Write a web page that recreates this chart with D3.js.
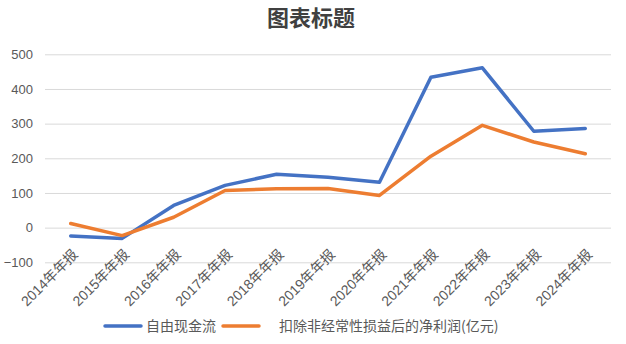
<!DOCTYPE html>
<html>
<head>
<meta charset="utf-8">
<script src="https://cdn.jsdelivr.net/npm/d3@7/dist/d3.min.js"></script>
<style>
  html, body { margin: 0; padding: 0; background: #fff; }
  svg { display: block; }
</style>
</head>
<body>
<svg id="chart" width="626" height="344"></svg>
<script>
// Annual report periods
const categories = ["2014年年报","2015年年报","2016年年报","2017年年报","2018年年报","2019年年报","2020年年报","2021年年报","2022年年报","2023年年报","2024年年报"];
// 自由现金流 (亿元)
const freeCashFlow = [-24, -31, 64, 122, 154, 145, 131, 434, 461, 278, 286];
// 扣除非经常性损益后的净利润 (亿元)
const netProfitDeducted = [12, -23, 30, 107, 112, 113, 93, 206, 295, 247, 213];
const yTicks = [-100, 0, 100, 200, 300, 400, 500];
const seriesNames = ["自由现金流", "扣除非经常性损益后的净利润(亿元)"];
const colors = ["#4472C4", "#ED7D31"];

const svg = d3.select("#chart");
const W = 626, H = 344;
const margin = { left: 45, right: 15, top: 54, bottom: 82 };
const fontCJK = "'Liberation Sans', 'Noto Sans CJK SC', sans-serif";

const x = d3.scaleBand().domain(categories).range([margin.left, W - margin.right]);
const y = d3.scaleLinear().domain([-100, 500]).range([262.3, 54.3]);

// Title
svg.append("text")
  .attr("x", 311).attr("y", 26)
  .attr("text-anchor", "middle")
  .attr("font-family", "'Noto Sans CJK SC', sans-serif")
  .attr("font-size", 22)
  .attr("font-weight", "bold")
  .attr("fill", "#404040")
  .text("图表标题");

// Gridlines + y labels
const yAxis = d3.axisLeft(y).tickValues(yTicks).tickSize(-(W - margin.right - margin.left)).tickPadding(12);
const gy = svg.append("g").attr("transform", `translate(${margin.left},0)`).call(yAxis);
gy.select(".domain").remove();
gy.selectAll(".tick line").attr("stroke", "#d9d9d9").attr("stroke-width", 1);
gy.selectAll(".tick text")
  .attr("font-family", "'Liberation Sans', Arial, sans-serif")
  .attr("font-size", 13)
  .attr("fill", "#595959");

// X labels rotated
const xAxis = d3.axisBottom(x).tickSize(0).tickPadding(0);
const gx = svg.append("g").attr("transform", `translate(0,${y(-100)})`).call(xAxis);
gx.select(".domain").remove();
gx.selectAll(".tick text")
  .attr("font-family", fontCJK)
  .attr("font-size", 14)
  .attr("fill", "#595959")
  .attr("text-anchor", "end")
  .attr("dy", 0)
  .attr("transform", "translate(8,-7) rotate(-45)");

// Lines
const line = d3.line()
  .x((d, i) => x(categories[i]) + x.bandwidth() / 2)
  .y(d => y(d));

[freeCashFlow, netProfitDeducted].forEach((vals, k) => {
  svg.append("path")
    .datum(vals)
    .attr("fill", "none")
    .attr("stroke", colors[k])
    .attr("stroke-width", 3.5)
    .attr("stroke-linejoin", "round")
    .attr("stroke-linecap", "round")
    .attr("d", line);
});

// Legend
const legendY = 326;
const legendItems = [
  { x1: 105, x2: 141, tx: 146 },
  { x1: 223, x2: 259, tx: 279 }
];
legendItems.forEach((it, k) => {
  svg.append("line")
    .attr("x1", it.x1).attr("x2", it.x2)
    .attr("y1", legendY).attr("y2", legendY)
    .attr("stroke", colors[k]).attr("stroke-width", 3.5)
    .attr("stroke-linecap", "round");
  svg.append("text")
    .attr("x", it.tx).attr("y", legendY)
    .attr("dy", "0.35em")
    .attr("font-family", "'Noto Sans CJK SC', sans-serif")
    .attr("font-size", 14)
    .attr("fill", "#595959")
    .text(seriesNames[k]);
});
</script>
</body>
</html>
